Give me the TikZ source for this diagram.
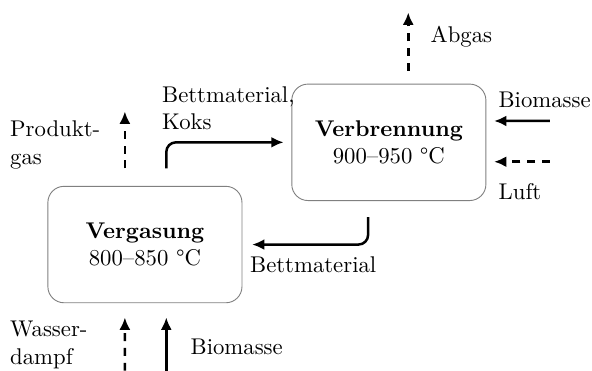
\documentclass[tikz,border=0pt]{standalone}
\usepackage{amsmath,amssymb}
\usepackage{xcolor}
\usepackage{tikz}
\usetikzlibrary{positioning,calc,arrows.meta}

\begin{document}
\begin{tikzpicture}[
    reactor/.style={draw=gray, rounded corners=0.25cm, minimum width=3cm, minimum height=1.8cm, align=center},
    flow/.style={-{Latex[length=1.9mm,width=1.7mm]}, line width=1.1pt},
    gasflow/.style={flow, dash pattern=on 3.5pt off 3pt},
    lbl/.style={align=left, inner sep=0pt, anchor=west}
]
    \useasboundingbox (0,0) rectangle (9.15,5.73);

    % Reactors
    \node[reactor] (verg) at (2.24,1.95) {\textbf{Vergasung}\\800--850 \textdegree C};
    \node[reactor] (verb) at (6.01,3.53) {\textbf{Verbrennung}\\900--950 \textdegree C};

    % Vergasung streams
    \coordinate (pg) at ($(verg.north)+(-0.31,0.27)$);
    \coordinate (pgend) at ($(pg)+(0,0.88)$);
    \draw[gasflow] (pg) -- (pgend);
    \node[lbl] (pglbl) at (0.15,3.49) {Produkt-\\gas};

    \coordinate (wd) at (1.93,0);
    \draw[gasflow] (wd) -- ($(verg.south)+(-0.31,-0.22)$);
    \node[lbl] (wdlbl) at (0.15,0.40) {Wasser-\\dampf};

    \coordinate (bmv) at (2.57,0);
    \draw[flow] (bmv) -- ($(verg.south)+(0.33,-0.22)$);
    \node[lbl] (bmvlbl) at (2.94,0.37) {Biomasse};

    % Bed material loop
    \coordinate (bk) at ($(verg.north)+(0.33,0.27)$);
    \draw[flow, rounded corners=0.15cm] (bk) |- ([xshift=-0.12cm]verb.west);
    \node[lbl] (bklbl) at (2.50,4.06) {Bettmaterial,\\Koks};

    \coordinate (bm) at ($(verb.south)+(-0.32,-0.25)$);
    \draw[flow, rounded corners=0.15cm] (bm) |- ([xshift=0.15cm]verg.east);
    \node[lbl] (bmlbl) at (3.86,1.64) {Bettmaterial};

    % Verbrennung streams
    \coordinate (ag) at ($(verb.north)+(0.30,0.20)$);
    \coordinate (agend) at ($(ag)+(0,0.9)$);
    \draw[gasflow] (ag) -- (agend);
    \node[lbl] (aglbl) at (6.65,5.16) {Abgas};

    \coordinate (bmr) at (8.50,3.86);
    \draw[flow] (bmr) -- ($(verb.east)+(0.12,0.33)$);
    \node[lbl] (bmrlbl) at (7.70,4.19) {Biomasse};

    \coordinate (lu) at (8.50,3.23);
    \draw[gasflow] (lu) -- ($(verb.east)+(0.12,-0.30)$);
    \node[lbl] (lulbl) at (7.70,2.77) {Luft};
\end{tikzpicture}
\end{document}
